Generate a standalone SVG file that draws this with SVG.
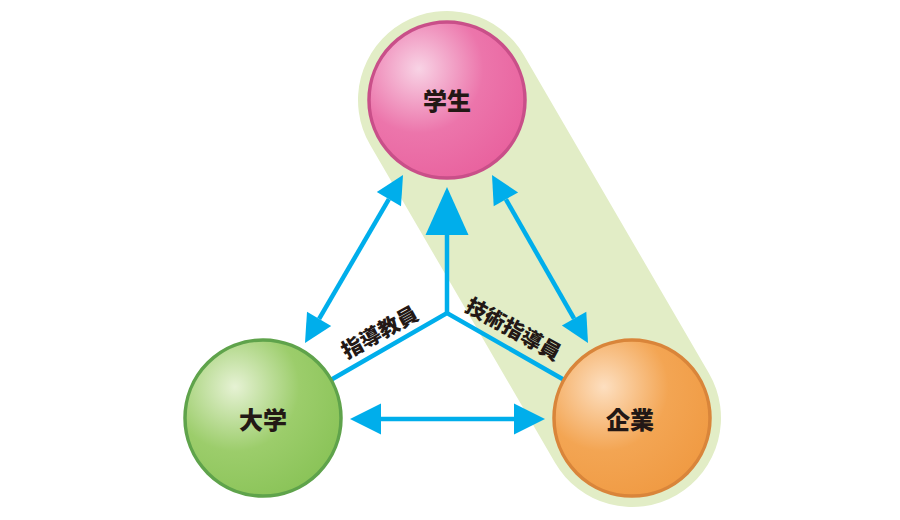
<svg xmlns="http://www.w3.org/2000/svg" width="900" height="520" viewBox="0 0 900 520">
<defs>
<radialGradient id="gPink" cx="0.32" cy="0.3" r="0.75">
<stop offset="0" stop-color="#f8d3e5"/>
<stop offset="0.55" stop-color="#ec75ab"/>
<stop offset="1" stop-color="#e9639f"/>
</radialGradient>
<radialGradient id="gGreen" cx="0.32" cy="0.3" r="0.75">
<stop offset="0" stop-color="#e6f2d4"/>
<stop offset="0.55" stop-color="#9ccd6b"/>
<stop offset="1" stop-color="#8bc459"/>
</radialGradient>
<radialGradient id="gOrange" cx="0.32" cy="0.3" r="0.75">
<stop offset="0" stop-color="#fddfc0"/>
<stop offset="0.55" stop-color="#f3a553"/>
<stop offset="1" stop-color="#f09b44"/>
</radialGradient>
<style>
.conn{stroke:#00aeeb;stroke-width:4.5;fill:none}
.head{fill:#00aeeb}
.lbl{font-family:"Noto Sans CJK JP","Noto Sans CJK SC",sans-serif;font-weight:900;fill:#231815;text-anchor:middle;dominant-baseline:central}
.node{font-size:24px}
.edge{font-size:21px}
</style>
</defs>
<rect width="900" height="520" fill="#ffffff"/>
<g id="band">
<line x1="447" y1="100" x2="632" y2="418" stroke="#e2edc6" stroke-width="178" stroke-linecap="round"/>
</g>
<g id="connectors">
<line class="conn" x1="388.9" y1="199.2" x2="319.1" y2="318.8"/>
<polygon class="head" points="403,175 401,206.3 376.8,192.1"/>
<polygon class="head" points="305,343 331.2,325.9 307,311.7"/>
<line class="conn" x1="505.9" y1="199.3" x2="574.1" y2="318.7"/>
<polygon class="head" points="492,175 518.1,192.4 493.7,206.2"/>
<polygon class="head" points="588,343 586.3,311.8 561.9,325.6"/>
<line class="conn" x1="378" y1="419" x2="517" y2="419"/>
<polygon class="head" points="350,419 381,403.5 381,434.5"/>
<polygon class="head" points="545,419 514,403.5 514,434.5"/>
<polyline class="conn" points="322,385 447,313 573,385"/>
<line class="conn" x1="447" y1="313" x2="447" y2="232"/>
<polygon class="head" points="447,187 425.5,235 468.5,235"/>
<text class="lbl edge" transform="translate(379,331) rotate(-29)">指導教員</text>
<text class="lbl edge" transform="translate(514,328) rotate(29)">技術指導員</text>
</g>
<g id="student">
<circle cx="447" cy="100" r="78" fill="url(#gPink)" stroke="#c94f89" stroke-width="3.5"/>
<text class="lbl node" x="447" y="99">学生</text>
</g>
<g id="university">
<circle cx="263" cy="418" r="78" fill="url(#gGreen)" stroke="#5fa34b" stroke-width="3.5"/>
<text class="lbl node" x="263" y="418">大学</text>
</g>
<g id="company">
<circle cx="632" cy="418" r="78" fill="url(#gOrange)" stroke="#d9853a" stroke-width="3.5"/>
<text class="lbl node" x="630" y="418">企業</text>
</g>
</svg>
